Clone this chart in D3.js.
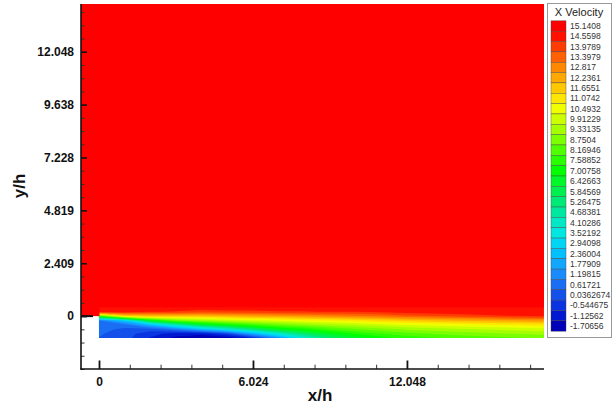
<!DOCTYPE html>
<html><head><meta charset="utf-8">
<script src="https://cdn.jsdelivr.net/npm/d3@7"></script>
<style>body{margin:0;background:#fff}svg{display:block}</style>
</head><body>
<script>
// ---- data ----
const xTicks = [0, 6.024, 12.048];
const yTicks = [0, 2.409, 4.819, 7.228, 9.638, 12.048];
const xTickLabels = ["0", "6.024", "12.048"];
const yTickLabels = ["0", "2.409", "4.819", "7.228", "9.638", "12.048"];
const levelLabels = ["15.1408","14.5598","13.9789","13.3979","12.817","12.2361","11.6551","11.0742","10.4932","9.91229","9.33135","8.7504","8.16946","7.58852","7.00758","6.42663","5.84569","5.26475","4.68381","4.10286","3.52192","2.94098","2.36004","1.77909","1.19815","0.61721","0.0362674","-0.544675","-1.12562","-1.70656"];
const levelColors = ["#ff0000","#ff1000","#ff3c00","#ff6000","#ff8800","#ffa800","#ffc800","#ffe600","#f0ff00","#ccff00","#a6ff00","#7cff00","#50ff00","#28ff00","#00ff00","#00f828","#00f050","#00ea78","#00e8a0","#00e8c4","#00e6e0","#00d6f4","#00c0ff","#12a6ff","#1a8aff","#1a6ef4","#1450ea","#0a34e0","#0018d0","#0000b8"];
// grid of X velocity (step region, x/h columns, y/h rows)
const gridX = [0,1,2,3,4,5,6,7,8,9,10,11,12,14,16,17.4];
const gridY = [-1,-0.8,-0.6,-0.4,-0.2,0,0.2,0.4,0.6];
const uYm10 = [0.6,0.3,-0.6,-1.3,-1.6,-1.5,-0.5,1.5,4.0,5.6,6.6,7.3,7.8,8.3,8.6,8.8];
const uYm08 = [0.7,0.3,-0.3,-0.8,-0.9,0.0,2.2,4.2,5.7,6.8,7.6,8.1,8.5,9.0,9.3,9.5];
const uYm06 = [0.8,0.5,0.3,1.2,2.6,4.0,5.5,6.8,7.5,8.2,8.7,9.1,9.4,9.8,10.1,10.3];
const uYm04 = [0.9,0.9,2.5,4.5,6.3,7.3,8.1,8.7,9.2,9.6,9.9,10.2,10.5,10.8,11.1,11.3];
const uYm02 = [1.2,3.0,7.0,8.8,9.5,10.0,10.3,10.6,10.9,11.1,11.3,11.6,11.9,12.3,12.6,12.8];
const uY00  = [8.0,11.5,12.0,12.0,12.0,12.3,12.5,12.7,12.9,13.1,13.3,13.5,13.8,14.1,14.5,14.6];
const uY02  = [15.14,15.0,14.6,14.5,14.3,14.4,14.4,14.5,14.5,14.6,14.6,14.7,14.9,15.0,15.05,15.1];
const uY04  = [15.14,15.14,15.1,15.1,15.0,15.0,15.0,15.0,15.1,15.1,15.1,15.14,15.14,15.14,15.14,15.14];
const uY06  = [15.14,15.14,15.14,15.14,15.14,15.14,15.14,15.14,15.14,15.14,15.14,15.14,15.14,15.14,15.14,15.14];
const uRows = [uYm10,uYm08,uYm06,uYm04,uYm02,uY00,uY02,uY04,uY06];

// ---- drawing ----
const W = 616, H = 407;
const svg = d3.select("body").append("svg").attr("width", W).attr("height", H);
const x = d3.scaleLinear().domain([-0.704, 17.41]).range([81, 544]);
const y = d3.scaleLinear().domain([-2.409, 14.22]).range([369, 4]);
const levels = levelLabels.map(Number);
const red = levelColors[0];

// contour flood of the step region
const nx = gridX.length, ny = gridY.length;
const values = [];
uRows.forEach(r => r.forEach(v => values.push(v)));
const asc = levels.slice().sort((a, b) => a - b);
const contours = d3.contours().size([nx, ny]).thresholds(asc)(values);
const gi = d3.scaleLinear().domain(d3.range(nx)).range(gridX).clamp(true);
const gj = d3.scaleLinear().domain(d3.range(ny)).range(gridY).clamp(true);
const proj = d3.geoTransform({point: function(px, py) {
  this.stream.point(x(gi(px - 0.5)), y(gj(py - 0.5)));
}});
const path = d3.geoPath(proj);
const colorOf = v => levelColors[levels.indexOf(v)];
svg.append("g").selectAll("path").data(contours).join("path")
  .attr("d", path).attr("fill", d => colorOf(d.value));

// free stream region (drawn over the grid's upper edges)
const topY = gridY[gridY.length - 2];
svg.append("rect").attr("x", x(-0.704)).attr("y", y(14.22))
  .attr("width", x(17.41) - x(-0.704)).attr("height", y(topY) - y(14.22))
  .attr("fill", red);
svg.append("rect").attr("x", x(-0.704)).attr("y", y(14.22))
  .attr("width", x(0) - x(-0.704) + 0.5).attr("height", y(0) - y(14.22))
  .attr("fill", red);

// step top wall
svg.append("line").attr("x1", 81).attr("x2", 93).attr("y1", y(0)).attr("y2", y(0))
  .attr("stroke", "#111").attr("stroke-width", 2);

const font = "'Liberation Sans', Arial, sans-serif";
// axes
const yMinor = d3.range(-2.409, 14.22, 0.60225).filter(v => !yTicks.some(t => Math.abs(t - v) < 0.01));
const xMinor = d3.range(1.2048, 17.41, 1.2048).filter(v => !xTicks.some(t => Math.abs(t - v) < 0.01));

const gy = svg.append("g").attr("transform", `translate(81,0)`);
gy.call(d3.axisLeft(y).tickValues(yMinor).tickSize(-3.5).tickFormat(""));
gy.selectAll(".tick line").attr("stroke", "#333");
const gyM = svg.append("g").attr("transform", `translate(81,0)`)
  .call(d3.axisLeft(y).tickValues(yTicks).tickSize(-6).tickPadding(7).tickFormat((d, i) => yTickLabels[i]));
gyM.selectAll(".tick line").attr("stroke", "#111").attr("stroke-width", 1.6);
gyM.selectAll("text").attr("font-family", font).attr("font-weight", "bold").attr("font-size", 12).attr("fill", "#111");
svg.selectAll(".domain").remove();
svg.append("line").attr("x1", 81).attr("x2", 81).attr("y1", 4).attr("y2", 369.5).attr("stroke", "#111").attr("stroke-width", 1.6);

const gx = svg.append("g").attr("transform", `translate(0,369)`);
gx.call(d3.axisBottom(x).tickValues(xMinor).tickSize(-4.3).tickFormat(""));
gx.selectAll(".tick line").attr("stroke", "#333");
const gxM = svg.append("g").attr("transform", `translate(0,369)`)
  .call(d3.axisBottom(x).tickValues(xTicks).tickSize(-8.5).tickPadding(8).tickFormat((d, i) => xTickLabels[i]));
gxM.selectAll(".tick line").attr("stroke", "#111").attr("stroke-width", 1.8);
gxM.selectAll("text").attr("font-family", font).attr("font-weight", "bold").attr("font-size", 12).attr("fill", "#111");
svg.selectAll(".domain").remove();
svg.append("line").attr("x1", 80.2).attr("x2", 544).attr("y1", 369).attr("y2", 369).attr("stroke", "#111").attr("stroke-width", 1.6);

// axis titles
svg.append("text").attr("x", 320).attr("y", 401).attr("text-anchor", "middle")
  .attr("font-family", font).attr("font-weight", "bold").attr("font-size", 17).attr("fill", "#111").text("x/h");
svg.append("text").attr("transform", "translate(25,186) rotate(-90)").attr("text-anchor", "middle")
  .attr("font-family", font).attr("font-weight", "bold").attr("font-size", 17).attr("fill", "#111").text("y/h");

// legend
const lg = svg.append("g");
lg.append("rect").attr("x", 547.5).attr("y", 3.5).attr("width", 64).attr("height", 334)
  .attr("fill", "#fff").attr("stroke", "#999").attr("stroke-width", 1);
lg.append("text").attr("x", 579).attr("y", 16).attr("text-anchor", "middle")
  .attr("font-family", font).attr("font-size", 11).attr("fill", "#222").text("X Velocity");
const ly = d3.scaleLinear().domain([0, levels.length - 1]).range([26, 326]);
const step = ly(1) - ly(0);
lg.selectAll("rect.sw").data(levels).join("rect").attr("class", "sw")
  .attr("x", 551).attr("y", (d, i) => ly(i) - step / 2).attr("width", 15).attr("height", step)
  .attr("fill", (d, i) => levelColors[i]).attr("stroke", "#444").attr("stroke-width", 0.4);
lg.selectAll("text.lb").data(levelLabels).join("text").attr("class", "lb")
  .attr("x", 570).attr("y", (d, i) => ly(i) + 3).attr("font-family", font).attr("font-size", 8.5)
  .attr("fill", "#333").text(d => d);
</script>
</body></html>
